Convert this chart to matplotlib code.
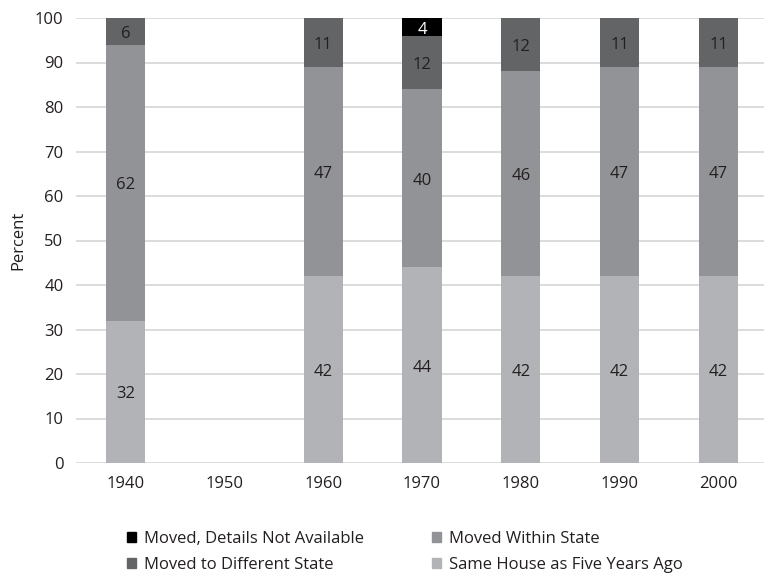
import matplotlib
matplotlib.use("Agg")
import matplotlib.pyplot as plt
from matplotlib.patches import Patch

plt.rcParams['font.family'] = ['Open Sans', 'DejaVu Sans']

years = ['1940', '1950', '1960', '1970', '1980', '1990', '2000']
same_house = [32, 0, 42, 44, 42, 42, 42]
within_state = [62, 0, 47, 40, 46, 47, 47]
diff_state = [6, 0, 11, 12, 12, 11, 11]
not_avail = [0, 0, 0, 4, 0, 0, 0]

series = [
    ('Same House as Five Years Ago', same_house, '#b1b3b6', '#231f20'),
    ('Moved Within State', within_state, '#929396', '#231f20'),
    ('Moved to Different State', diff_state, '#636466', '#231f20'),
    ('Moved, Details Not Available', not_avail, '#000000', '#ffffff'),
]

FS = 12
W, H = 764, 573
fig = plt.figure(figsize=(W/100, H/100), dpi=100)
ax = fig.add_axes([76/W, 110/H, (W-76)/W, 445/H])

x = list(range(len(years)))
bottom = [0]*len(years)
handles = {}
for name, vals, color, tcolor in series:
    ax.bar(x, vals, width=0.395, bottom=bottom, color=color, zorder=3)
    handles[name] = Patch(color=color)
    for i, v in enumerate(vals):
        if v > 0:
            ax.text(i, bottom[i] + v/2 - 0.6, str(v), ha='center', va='center',
                    fontsize=FS, color=tcolor, zorder=4)
    bottom = [b + v for b, v in zip(bottom, vals)]

ax.set_xlim(-0.5, 6.46)
ax.set_ylim(0, 100)
ax.set_yticks(range(0, 101, 10))
ax.set_xticks(x)
ax.set_xticklabels(years)
ax.tick_params(axis='both', length=0, labelsize=FS, colors='#231f20')
ax.tick_params(axis='y', pad=9)
ax.tick_params(axis='x', pad=9)
ax.grid(axis='y', color='#d9d9d9', linewidth=1.3, zorder=0)
for s in ax.spines.values():
    s.set_visible(False)
ax.set_ylabel('Percent', fontsize=FS, color='#231f20', labelpad=6)

cols = [
    (['Moved, Details Not Available', 'Moved to Different State'], 127),
    (['Moved Within State', 'Same House as Five Years Ago'], 432),
]
for names, xpx in cols:
    leg = fig.legend([handles[n] for n in names], names, ncol=1, frameon=False,
                     loc='center left', bbox_to_anchor=(xpx/W, (H-552)/H),
                     fontsize=FS, handlelength=0.55, handleheight=0.55,
                     handletextpad=0.45, labelspacing=0.62, borderpad=0,
                     borderaxespad=0, labelcolor='#231f20')

fig.savefig('out.png', dpi=100)
